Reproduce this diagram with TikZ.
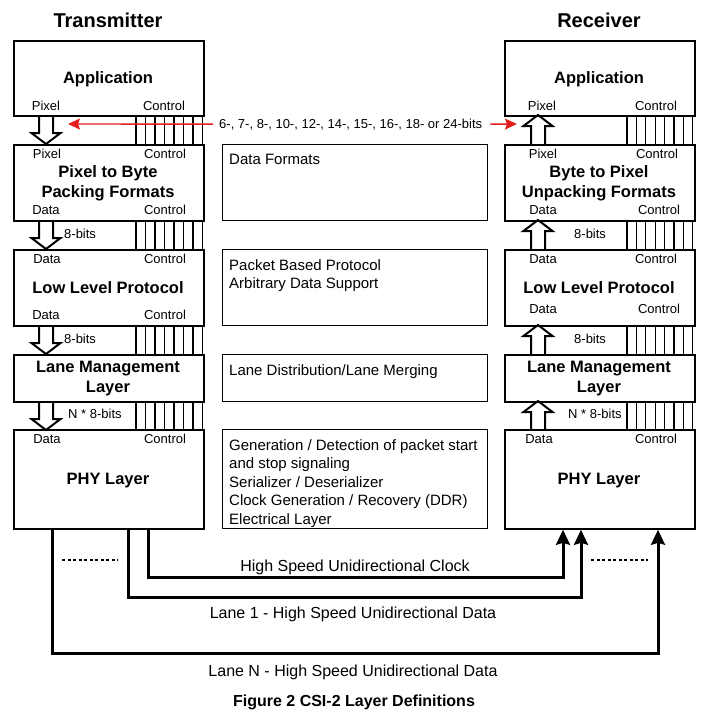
\documentclass[tikz,border=0pt]{standalone}
\usepackage{fontspec}
\setmainfont{Liberation Sans}
\usetikzlibrary{arrows.meta}

\definecolor{bitred}{RGB}{228,30,30}
\newcommand\portfont{\fontsize{13}{15}\selectfont}
\newcommand\layerfont{\fontsize{16.5}{20}\selectfont\bfseries}
\newcommand\headfont{\fontsize{20}{24}\selectfont\bfseries}
\newcommand\notefont{\fontsize{15}{18.5}\selectfont}
\newcommand\lanefont{\fontsize{16}{19}\selectfont}

\tikzset{
  layer/.style={draw, line width=1.8pt, minimum width=190pt, anchor=north west, inner sep=0pt},
  note/.style={draw, line width=1.1pt, minimum width=265pt, anchor=north west, inner sep=0pt},
  notetext/.style={font=\notefont, align=left, anchor=north west, inner sep=0pt},
  port/.style={font=\portfont, anchor=base, inner sep=0pt},
  bits/.style={font=\portfont, anchor=base west, inner sep=0pt},
  title/.style={font=\layerfont, anchor=base, inner sep=0pt},
  ctrl/.style={line width=1.1pt},
  lane/.style={line width=3pt, -{Stealth[length=15pt, width=14pt, inset=2pt]}},
  lanelabel/.style={font=\lanefont, anchor=base, inner sep=0pt},
  redarrow/.style={bitred, line width=1.4pt, -{Stealth[length=12pt, width=11pt, inset=2pt]}},
  hollowdown/.pic={
    \draw[line width=2pt, line join=miter] (-7,0) -- (-7,18) -- (-14.5,18) -- (0,29) -- (14.5,18) -- (7,18) -- (7,0);
  },
  hollowup/.pic={
    \draw[line width=2pt, line join=miter] (-7,29) -- (-7,11) -- (-14.5,11) -- (0,0) -- (14.5,11) -- (7,11) -- (7,29);
  }
}

\begin{document}
\begin{tikzpicture}[x=1pt, y=-1pt]
  \useasboundingbox (0,0) rectangle (709,716);

  % headings
  \node[font=\headfont, anchor=base, inner sep=0pt] (txhead) at (108,27) {Transmitter};
  \node[font=\headfont, anchor=base, inner sep=0pt] (rxhead) at (599,27) {Receiver};

  % transmitter stack
  \node[layer, minimum height=75pt] (txapp) at (13,40) {};
  \node[layer, minimum height=76pt] (txpack) at (13,144) {};
  \node[layer, minimum height=76pt] (txllp) at (13,249) {};
  \node[layer, minimum height=47pt] (txlane) at (13,354) {};
  \node[layer, minimum height=99pt] (txphy) at (13,429) {};

  \node[title] (txapptitle) at (108,83) {Application};
  \node[port] (txapppix) at (46,110) {Pixel};
  \node[port] (txappctl) at (164,110) {Control};

  \node[port] (txpackpix) at (47,158) {Pixel};
  \node[port] (txpackctlin) at (165,158) {Control};
  \node[title] (txpacktitle) at (108,177) {Pixel to Byte};
  \node[title] (txpacktitleb) at (108,197) {Packing Formats};
  \node[port] (txpackdata) at (46,214) {Data};
  \node[port] (txpackctlout) at (165,214) {Control};

  \node[port] (txllpdatain) at (47,263) {Data};
  \node[port] (txllpctlin) at (165,263) {Control};
  \node[title] (txllptitle) at (108,293) {Low Level Protocol};
  \node[port] (txllpdataout) at (46,319) {Data};
  \node[port] (txllpctlout) at (165,319) {Control};

  \node[title] (txlanetitle) at (108,372) {Lane Management};
  \node[title] (txlanetitleb) at (108,392) {Layer};

  \node[port] (txphydata) at (47,443) {Data};
  \node[port] (txphyctl) at (165,443) {Control};
  \node[title] (txphytitle) at (108,484) {PHY Layer};

  % receiver stack
  \node[layer, minimum height=75pt] (rxapp) at (504,40) {};
  \node[layer, minimum height=76pt] (rxunpack) at (504,144) {};
  \node[layer, minimum height=76pt] (rxllp) at (504,249) {};
  \node[layer, minimum height=47pt] (rxlane) at (504,354) {};
  \node[layer, minimum height=99pt] (rxphy) at (504,429) {};

  \node[title] (rxapptitle) at (599,83) {Application};
  \node[port] (rxapppix) at (542,110) {Pixel};
  \node[port] (rxappctl) at (656,110) {Control};

  \node[port] (rxunpackpix) at (543,158) {Pixel};
  \node[port] (rxunpackctlin) at (657,158) {Control};
  \node[title] (rxunpacktitle) at (599,177) {Byte to Pixel};
  \node[title] (rxunpacktitleb) at (599,197) {Unpacking Formats};
  \node[port] (rxunpackdata) at (543,214) {Data};
  \node[port] (rxunpackctlout) at (659,214) {Control};

  \node[port] (rxllpdatain) at (543,263) {Data};
  \node[port] (rxllpctlin) at (656,263) {Control};
  \node[title] (rxllptitle) at (599,293) {Low Level Protocol};
  \node[port] (rxllpdataout) at (543,313) {Data};
  \node[port] (rxllpctlout) at (659,313) {Control};

  \node[title] (rxlanetitle) at (599,372) {Lane Management};
  \node[title] (rxlanetitleb) at (599,392) {Layer};

  \node[port] (rxphydata) at (539,443) {Data};
  \node[port] (rxphyctl) at (656,443) {Control};
  \node[title] (rxphytitle) at (599,484) {PHY Layer};

  % description boxes
  \node[note, minimum height=76pt] (fmtbox) at (222,144) {};
  \node[note, minimum height=76pt] (protobox) at (222,249) {};
  \node[note, minimum height=47pt] (distbox) at (222,354) {};
  \node[note, minimum height=99pt] (phybox) at (222,429) {};

  \node[notetext] (fmttext) at (229,154) {Data Formats};
  \node[notetext] (prototext) at (229,259) {Packet Based Protocol\\Arbitrary Data Support};
  \node[notetext] (disttext) at (229,364) {Lane Distribution/Lane Merging};
  \node[notetext] (phytext) at (229,439) {Generation / Detection of packet start\\and stop signaling\\Serializer / Deserializer\\Clock Generation / Recovery (DDR)\\Electrical Layer};

  % data paths
  \pic at (46,115) {hollowdown};
  \pic at (46,220) {hollowdown};
  \pic at (46,325) {hollowdown};
  \pic at (46,401) {hollowdown};
  \pic at (538,115) {hollowup};
  \pic at (538,220) {hollowup};
  \pic at (538,325) {hollowup};
  \pic at (538,401) {hollowup};

  \node[bits] (txbitsa) at (64,238) {8-bits};
  \node[bits] (txbitsb) at (64,343) {8-bits};
  \node[bits] (txbitsc) at (68,418) {N * 8-bits};
  \node[bits] (rxbitsa) at (574,238) {8-bits};
  \node[bits] (rxbitsb) at (574,343) {8-bits};
  \node[bits] (rxbitsc) at (568,418) {N * 8-bits};

  % control buses
  \foreach \ya/\yb in {115/144, 220/249, 325/354, 401/429} {
    \foreach \k in {0,...,7} {
      \draw[ctrl] (136+9.5*\k,\ya) -- (136+9.5*\k,\yb);
      \draw[ctrl] (627+9.4*\k,\ya) -- (627+9.4*\k,\yb);
    }
  }

  % pixel widths
  \node[font=\portfont, anchor=base west, inner sep=0pt] (pixbits) at (219,128) {6-, 7-, 8-, 10-, 12-, 14-, 15-, 16-, 18- or 24-bits};
  \coordinate (txpixin) at (68,124);
  \coordinate (rxpixout) at (517,124);
  \draw[redarrow] ([xshift=-6pt]pixbits.west) -- (txpixin);
  \draw[redarrow] ([xshift=8pt]pixbits.east) -- (rxpixout);

  % lanes
  \draw[lane] ([xshift=135pt]txphy.south west) -- ++(0,48) -| ([xshift=59pt]rxphy.south west);
  \draw[lane] ([xshift=115pt]txphy.south west) -- ++(0,68) -| ([xshift=77pt]rxphy.south west);
  \draw[lane] ([xshift=39pt]txphy.south west) -- ++(0,124) -| ([xshift=154pt]rxphy.south west);

  \draw[line width=1.5pt, dash pattern=on 3pt off 2.5pt] (62,560) -- (118,560);
  \draw[line width=1.5pt, dash pattern=on 3pt off 2.5pt] (591,560) -- (648,560);

  \node[lanelabel] (clocklabel) at (355,571) {High Speed Unidirectional Clock};
  \node[lanelabel] (laneonelabel) at (353,618) {Lane 1 - High Speed Unidirectional Data};
  \node[lanelabel] (lanenlabel) at (353,676) {Lane N - High Speed Unidirectional Data};

  \node[font=\fontsize{16}{19}\selectfont\bfseries, anchor=base, inner sep=0pt] (caption) at (354,706) {Figure 2 CSI-2 Layer Definitions};
\end{tikzpicture}
\end{document}
